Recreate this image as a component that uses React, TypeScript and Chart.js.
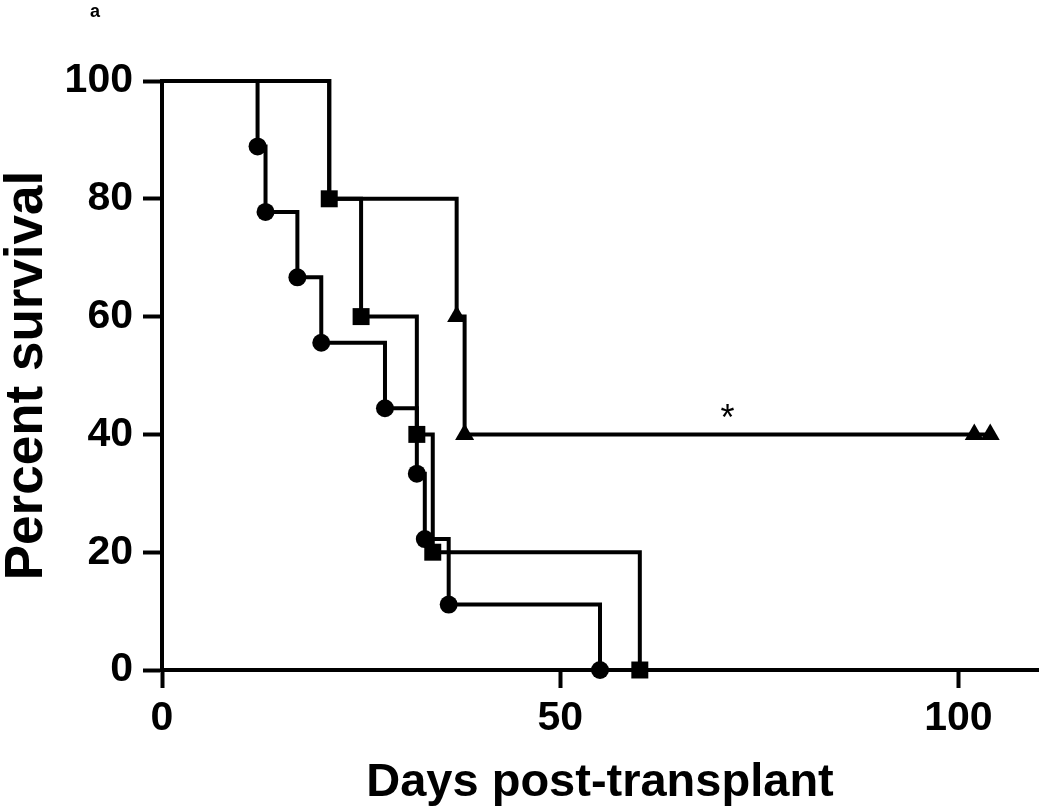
import React, { useEffect, useRef } from "react";
import { Chart, registerables } from "chart.js";

Chart.register(...registerables);

// ---- Data (Kaplan-Meier steps: day of event, % survival after event) ----
const CIRCLE_DAYS = [0, 12, 13, 17, 20, 28, 32, 33, 36, 55];
const CIRCLE_SURVIVAL = [100, 88.89, 77.78, 66.67, 55.56, 44.44, 33.33, 22.22, 11.11, 0];

const SQUARE_DAYS = [0, 21, 25, 32, 34, 60];
const SQUARE_SURVIVAL = [100, 80, 60, 40, 20, 0];

const TRIANGLE_DAYS = [0, 21, 37, 38, 102, 104];
const TRIANGLE_SURVIVAL = [100, 80, 60, 40, 40, 40];

const X_TICKS = [0, 50, 100];
const Y_TICKS = [0, 20, 40, 60, 80, 100];

const X_TITLE = "Days post-transplant";
const Y_TITLE = "Percent survival";
const PANEL_LABEL = "a";
const STAR_TEXT = "*";
const STAR_DAY = 71;
const STAR_SURVIVAL = 42.5;

const FONT = '"Liberation Sans", Arial, Helvetica, sans-serif';

function toPoints(xs: number[], ys: number[]) {
  return xs.map((x, i) => ({ x, y: ys[i] }));
}

const annotationPlugin = {
  id: "annotations",
  afterDatasetsDraw(chart: any) {
    const { ctx, scales } = chart;
    const x = scales.x;
    const y = scales.y;
    ctx.save();
    ctx.fillStyle = "#000";
    ctx.textAlign = "center";
    ctx.textBaseline = "middle";
    ctx.font = `36px ${FONT}`;
    ctx.fillText(STAR_TEXT, x.getPixelForValue(STAR_DAY), y.getPixelForValue(STAR_SURVIVAL));
    ctx.font = `bold 18px ${FONT}`;
    ctx.fillText(PANEL_LABEL, 95, 12);
    ctx.restore();
  },
};

export default function App() {
  const canvasRef = useRef<HTMLCanvasElement | null>(null);

  useEffect(() => {
    const canvas = canvasRef.current;
    if (!canvas) return;
    Chart.defaults.font.family = FONT;
    Chart.defaults.color = "#000";

    const common = {
      stepped: "before" as const,
      borderColor: "#000",
      backgroundColor: "#000",
      borderWidth: 4,
      pointBackgroundColor: "#000",
      pointBorderWidth: 0,
      pointHoverRadius: 0,
      fill: false,
      clip: false as const,
      tension: 0,
    };

    const chart = new Chart(canvas, {
      type: "line",
      data: {
        datasets: [
          {
            ...common,
            label: "Squares",
            data: toPoints(SQUARE_DAYS, SQUARE_SURVIVAL),
            pointStyle: "rect",
            pointRadius: (c: any) => (c.dataIndex === 0 ? 0 : 12),
          },
          {
            ...common,
            label: "Circles",
            data: toPoints(CIRCLE_DAYS, CIRCLE_SURVIVAL),
            pointStyle: "circle",
            pointRadius: (c: any) => (c.dataIndex === 0 ? 0 : 9),
          },
          {
            ...common,
            label: "Triangles",
            data: toPoints(TRIANGLE_DAYS, TRIANGLE_SURVIVAL),
            pointStyle: "triangle",
            pointRadius: (c: any) => (c.dataIndex <= 1 ? 0 : 11),
          },
        ],
      },
      options: {
        responsive: false,
        animation: false,
        events: [],
        layout: { padding: { left: 0, top: 81, right: 3, bottom: 0 } },
        plugins: {
          legend: { display: false },
          tooltip: { enabled: false },
        },
        scales: {
          x: {
            type: "linear",
            min: 0,
            max: 110,
            afterBuildTicks: (scale: any) => {
              scale.ticks = X_TICKS.map((v) => ({ value: v }));
            },
            afterFit: (scale: any) => {
              scale.height = 142;
            },
            ticks: {
              color: "#000",
              font: { size: 41, weight: "bold", lineHeight: 1 },
              padding: 10,
              maxRotation: 0,
              autoSkip: false,
            },
            grid: {
              display: true,
              drawOnChartArea: false,
              drawTicks: true,
              tickLength: 18,
              tickWidth: 4,
              tickColor: "#000",
            },
            border: { display: true, color: "#000", width: 4 },
            title: {
              display: true,
              text: X_TITLE,
              color: "#000",
              font: { size: 47, weight: "bold", lineHeight: 1 },
              padding: { top: 0, bottom: 5 },
            },
          },
          y: {
            type: "linear",
            min: 0,
            max: 100,
            afterBuildTicks: (scale: any) => {
              scale.ticks = Y_TICKS.map((v) => ({ value: v }));
            },
            afterFit: (scale: any) => {
              scale.width = 162;
            },
            ticks: {
              color: "#000",
              font: { size: 41, weight: "bold", lineHeight: 1 },
              padding: 10,
              autoSkip: false,
            },
            grid: {
              display: true,
              drawOnChartArea: false,
              drawTicks: true,
              tickLength: 19,
              tickWidth: 4,
              tickColor: "#000",
            },
            border: { display: true, color: "#000", width: 4 },
            title: {
              display: true,
              text: Y_TITLE,
              color: "#000",
              font: { size: 53, weight: "bold", lineHeight: 1 },
              padding: { top: 1, bottom: 0 },
            },
          },
        },
      },
      plugins: [annotationPlugin],
    } as any);

    return () => {
      chart.destroy();
    };
  }, []);

  return (
    <div
      style={{
        position: "fixed",
        left: 0,
        top: 0,
        width: 1050,
        height: 812,
        background: "#fff",
      }}
    >
      <canvas ref={canvasRef} width={1050} height={812} style={{ display: "block" }} />
    </div>
  );
}
